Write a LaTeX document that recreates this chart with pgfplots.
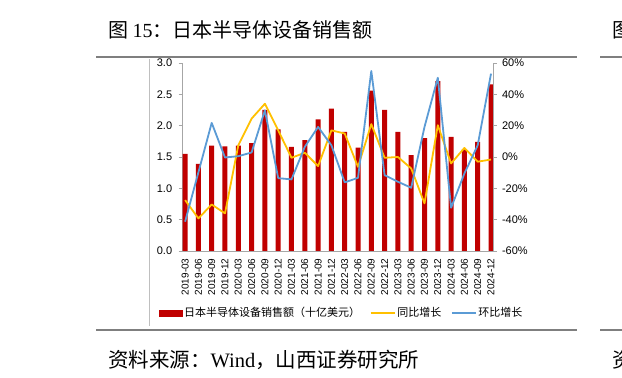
\documentclass[border=0pt]{standalone}
\usepackage{pgfplots}
\pgfplotsset{compat=1.18}
\usepackage{pgfplotstable}
\usepackage{fontspec}
\setmainfont{Liberation Sans}
\newfontfamily\cjk{Noto Sans CJK SC}
\newfontfamily\serif{Liberation Serif}
\definecolor{barred}{HTML}{C00000}
\definecolor{yoyc}{HTML}{FFC000}
\definecolor{qoqc}{HTML}{5B9BD5}
\definecolor{axgray}{HTML}{A6A6A6}
\definecolor{rulegray}{HTML}{7F7F7F}

\pgfplotstableread{
x val yoy qoq
0 1.55 -27.5 -41.3
1 1.39 -39.2 -9.8
2 1.68 -30.3 21.8
3 1.67 -36.0 -0.3
4 1.68 7.5 0.5
5 1.72 24.5 2.9
6 2.25 34.0 29.8
7 1.94 17.0 -13.5
8 1.66 -0.5 -14.3
9 1.77 2.7 6.5
10 2.10 -5.8 19.2
11 2.27 17.0 7.5
12 1.90 15.0 -16.2
13 1.65 -6.3 -13.3
14 2.56 21.0 54.9
15 2.25 -0.5 -11.6
16 1.90 0.0 -15.8
17 1.53 -7.3 -19.6
18 1.80 -29.6 19.2
19 2.71 20.3 50.6
20 1.82 -4.1 -32.4
21 1.62 5.8 -10.5
22 1.74 -3.0 7.5
23 2.66 -1.6 53.2
}\data

\pgfplotsset{
  common/.style={
    at={(182.7pt,127pt)}, anchor=south west,
    scale only axis, width=310.3pt, height=188pt,
    xmin=-0.18, xmax=23.15,
    tick label style={font=\fontsize{11}{11}\selectfont},
    axis line style={axgray, line width=0.8pt},
    major tick length=4pt,
    y tick style={axgray, line width=0.8pt},
    tick align=outside,
  }
}

\begin{document}
\begin{tikzpicture}
\useasboundingbox (0pt,0pt) rectangle (622pt,378pt);
% title and rules
\node[anchor=base west, inner sep=0] at (108pt,340.5pt) {\cjk\fontsize{20}{20}\selectfont 图 {\serif 15}：日本半导体设备销售额};
\node[anchor=base west, inner sep=0] at (612pt,340.5pt) {\cjk\fontsize{20}{20}\selectfont 图};
\draw[rulegray, line width=2.5pt] (96pt,321pt) -- (577pt,321pt);
\draw[rulegray, line width=2.5pt] (600pt,321pt) -- (622pt,321pt);
\draw[rulegray, line width=2.5pt] (96pt,48pt) -- (577pt,48pt);
\draw[rulegray, line width=2.5pt] (600pt,48pt) -- (622pt,48pt);
\draw[black!25, line width=0.6pt] (149.5pt,319pt) -- (149.5pt,52pt);
\node[anchor=base west, inner sep=0] at (108pt,10.4pt) {\cjk\fontsize{20.5}{20.5}\selectfont 资料来源：{\serif Wind}，山西证券研究所};
\node[anchor=base west, inner sep=0] at (612pt,10.4pt) {\cjk\fontsize{20.5}{20.5}\selectfont 资};

\begin{axis}[common,
  ymin=0, ymax=3,
  ytick={0,0.5,1,1.5,2,2.5,3},
  yticklabel style={xshift=-3pt, /pgf/number format/.cd, fixed, fixed zerofill, precision=1, assume math mode=true},
  axis x line*=bottom, axis y line*=left,
  xtick={0,...,23},
  xticklabels={2019-03,2019-06,2019-09,2019-12,2020-03,2020-06,2020-09,2020-12,2021-03,2021-06,2021-09,2021-12,2022-03,2022-06,2022-09,2022-12,2023-03,2023-06,2023-09,2023-12,2024-03,2024-06,2024-09,2024-12},
  x tick style={draw=none},
  xticklabel style={rotate=90, anchor=east, font=\fontsize{10}{10}\selectfont},
]
\addplot[ybar, bar width=5pt, fill=barred, draw=none] table[x=x, y=val] {\data};
\end{axis}

\begin{axis}[common,
  ymin=-60, ymax=60,
  ytick={-60,-40,-20,0,20,40,60},
  yticklabel style={xshift=1.5pt},
  yticklabel={\pgfmathprintnumber[assume math mode=true]{\tick}\%},
  axis y line*=right, axis x line=none,
  legend style={draw=none, fill=none, at={(0.512,-0.33)}, anchor=center,
    font=\cjk\fontsize{11}{11}\selectfont, legend columns=3,
    /tikz/every even column/.append style={column sep=8pt},
    inner sep=0pt},
]
\addlegendimage{legend image code/.code={\fill[barred] (0pt,-3pt) rectangle (23pt,3pt);}}
\addlegendentry{日本半导体设备销售额（十亿美元）}
\addplot[yoyc, line width=1.8pt, mark=none, line join=round,
  legend image code/.code={\draw[yoyc, line width=1.2pt] (0pt,0pt) -- (24pt,0pt);}]
  table[x=x, y=yoy] {\data};
\addlegendentry{同比增长}
\addplot[qoqc, line width=1.8pt, mark=none, line join=round,
  legend image code/.code={\draw[qoqc, line width=1.2pt] (0pt,0pt) -- (24pt,0pt);}]
  table[x=x, y=qoq] {\data};
\addlegendentry{环比增长}
\end{axis}
\end{tikzpicture}
\end{document}
